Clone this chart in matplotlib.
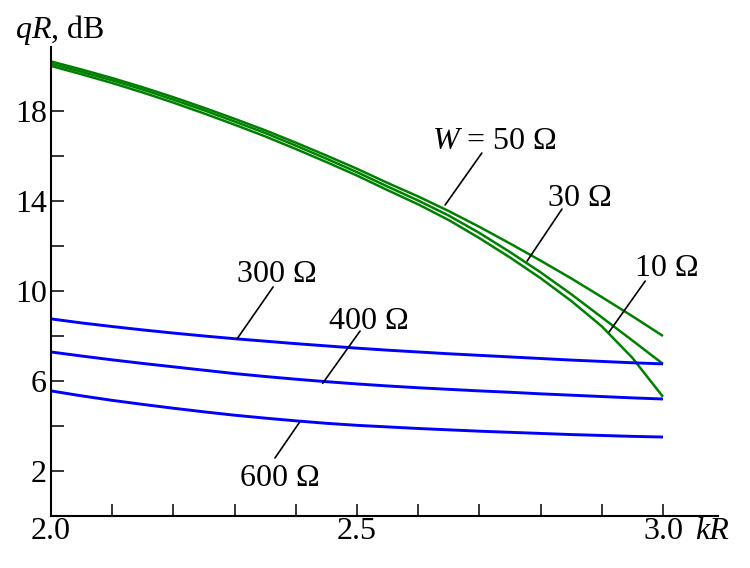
import matplotlib
matplotlib.use("Agg")
import matplotlib.pyplot as plt
from matplotlib.ticker import MultipleLocator, FixedLocator
from matplotlib.transforms import offset_copy

plt.rcParams['font.family'] = ['Liberation Serif', 'DejaVu Serif']
plt.rcParams['mathtext.fontset'] = 'custom'
plt.rcParams['mathtext.it'] = 'Liberation Serif:italic'
plt.rcParams['mathtext.rm'] = 'Liberation Serif'

FS = 23

# kR grid
kr = [2.0, 2.05, 2.1, 2.15, 2.2, 2.25, 2.3, 2.35, 2.4, 2.45, 2.5,
      2.55, 2.6, 2.65, 2.7, 2.75, 2.8, 2.85, 2.9, 2.95, 3.0]

# qR, dB for W = 50, 30, 10 Ohm (green)
q_50 = [20.2, 19.84, 19.46, 19.05, 18.61, 18.14, 17.65, 17.14, 16.59, 16.02, 15.43,
        14.8, 14.2, 13.55, 12.85, 12.11, 11.35, 10.56, 9.73, 8.88, 8.0]
q_30 = [20.1, 19.74, 19.36, 18.95, 18.5, 18.03, 17.53, 17.02, 16.46, 15.88, 15.28,
        14.64, 14.02, 13.35, 12.58, 11.73, 10.83, 9.86, 8.83, 7.8, 6.76]
q_10 = [20.0, 19.63, 19.24, 18.82, 18.37, 17.89, 17.39, 16.87, 16.31, 15.73, 15.13,
        14.48, 13.85, 13.15, 12.35, 11.49, 10.57, 9.56, 8.43, 7.03, 5.3]

# qR, dB for W = 300, 400, 600 Ohm (blue)
q_300 = [8.76, 8.58, 8.42, 8.27, 8.13, 8.0, 7.88, 7.77, 7.66, 7.56, 7.46,
         7.37, 7.29, 7.21, 7.14, 7.07, 7.0, 6.93, 6.87, 6.81, 6.76]
q_400 = [7.29, 7.11, 6.94, 6.78, 6.63, 6.48, 6.33, 6.2, 6.08, 5.97, 5.87,
         5.78, 5.7, 5.63, 5.56, 5.5, 5.43, 5.37, 5.31, 5.25, 5.2]
q_600 = [5.56, 5.34, 5.14, 4.96, 4.79, 4.63, 4.48, 4.35, 4.23, 4.12, 4.03,
         3.96, 3.89, 3.83, 3.77, 3.72, 3.67, 3.62, 3.58, 3.54, 3.51]

green_series = [q_50, q_30, q_10]
blue_series = [q_300, q_400, q_600]

# label text, text anchor (baseline centre), leader start, leader end
labels = [
    ("$W$ = 50 Ω", (2.725, 16.31), (2.704, 16.13), (2.644, 13.82)),
    ("30 Ω", (2.864, 13.78), (2.835, 13.64), (2.778, 11.33)),
    ("10 Ω", (3.007, 10.67), (2.971, 10.44), (2.912, 8.18)),
    ("300 Ω", (2.369, 10.40), (2.363, 10.18), (2.304, 7.87)),
    ("400 Ω", (2.52, 8.31), (2.505, 8.22), (2.444, 5.9)),
    ("600 Ω", (2.374, 1.33), (2.366, 2.58), (2.407, 4.2)),
]

fig = plt.figure(figsize=(7.5, 5.68), dpi=100)
ax = fig.add_axes([0.068, 0.0915, 0.8893, 0.8257])

for q in green_series:
    ax.plot(kr, q, color='#008000', lw=1.8, solid_capstyle='butt')
for q in blue_series:
    ax.plot(kr, q, color='#0000ff', lw=2.1, solid_capstyle='butt')

for txt, pos, start, end in labels:
    ax.text(pos[0], pos[1], txt, ha='center', va='baseline', fontsize=FS)
    ax.annotate("", xy=end, xytext=start,
                arrowprops=dict(arrowstyle='-', lw=1.2, color='black',
                                shrinkA=0, shrinkB=0))

ax.set_xlim(2.0, 3.0899)
ax.set_ylim(0, 20.84)

ax.spines['top'].set_visible(False)
ax.spines['right'].set_visible(False)
for s in ('left', 'bottom'):
    ax.spines[s].set_linewidth(1.5)

ax.xaxis.set_major_locator(FixedLocator([2.0, 2.5, 3.0]))
ax.xaxis.set_minor_locator(MultipleLocator(0.1))
ax.set_xticklabels(["2.0", "2.5", "3.0"])
ax.yaxis.set_major_locator(FixedLocator([2, 6, 10, 14, 18]))
ax.yaxis.set_minor_locator(FixedLocator([4, 8, 12, 16]))

xpad = 0.5
ax.tick_params(axis='both', which='both', direction='in', length=9, width=1.1,
               labelsize=FS)
ax.tick_params(axis='x', which='both', pad=xpad)
ax.tick_params(axis='y', which='both', pad=3)

# axis names
kr_trans = offset_copy(ax.get_xaxis_transform(), fig=fig, y=-xpad, units='points')
ax.text(3.052, 0, "kR", transform=kr_trans, ha='left', va='top',
        fontsize=FS, fontstyle='italic')
fig.text(15 / 750, (568 - 38) / 568, "$qR$, dB", ha='left', va='baseline',
         fontsize=FS)

fig.savefig("out.png", dpi=100)
